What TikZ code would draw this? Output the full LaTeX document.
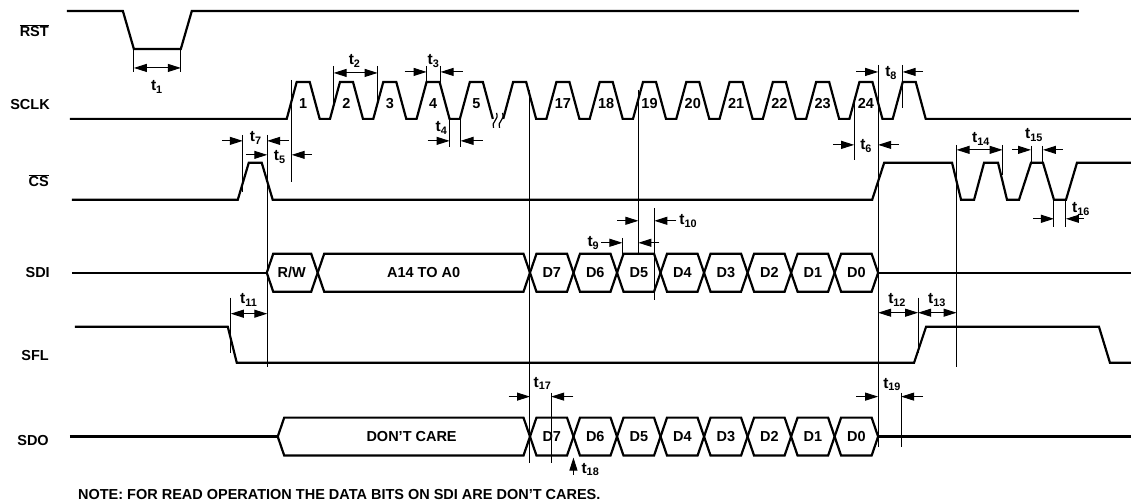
\documentclass[tikz,border=0pt]{standalone}
\usepackage{fontspec}
\setmainfont{Liberation Sans}
\usetikzlibrary{arrows.meta}

\newcommand{\tsub}[1]{t\textsubscript{#1}}
\newcommand{\ovl}[1]{$\overline{\hbox{#1}}$}
\newcommand{\busbox}[3]{%
  \draw[wave] (#1,#3) -- ({#1+6.5},{#3-19}) -- ({#2-6.5},{#3-19}) -- (#2,#3)
    -- ({#2-6.5},{#3+19}) -- ({#1+6.5},{#3+19}) -- cycle;}

\tikzset{
  wave/.style={line width=2.2pt, line join=miter},
  guide/.style={line width=1pt},
  dim/.style={line width=1pt, -{Triangle[length=13pt,width=8pt]}},
  ddim/.style={line width=1pt, {Triangle[length=13pt,width=8pt]}-{Triangle[length=13pt,width=8pt]}},
  txt/.style={font=\bfseries\fontsize{14.5}{15}\selectfont, inner sep=0pt},
  tl/.style={font=\bfseries\fontsize{15.5}{16}\selectfont, inner sep=0pt},
}

\begin{document}
\begin{tikzpicture}[x=1pt,y=-1pt]
    \fill[white] (0,0) rectangle (1132,504);
    % signal names
    \node[txt,anchor=east] (rst) at (49,31) {\ovl{RST}};
    \node[txt,anchor=east] (sclk) at (50,105) {SCLK};
    \node[txt,anchor=east] (cs) at (49,181) {\ovl{CS}};
    \node[txt,anchor=east] (sdi) at (50,273) {SDI};
    \node[txt,anchor=east] (sfl) at (49,356) {SFL};
    \node[txt,anchor=east] (sdo) at (49,441) {SDO};
    % waveforms
    \draw[wave] (67,11) -- (123,11) -- (134,49) -- (181,49) -- (192,11) -- (1080,11);
    \draw[wave] (70,119) foreach \i in {0,...,4} { -- ({287+43.33*\i},119) -- ({297+43.33*\i},82) -- ({310+43.33*\i},82) -- ({320+43.33*\i},119) };
    \draw[wave] (503.7,119) foreach \i in {5,...,14} { -- ({297+43.33*\i},82) -- ({310+43.33*\i},82) -- ({320+43.33*\i},119) -- ({330.3+43.33*\i},119) } -- (1132,119);
    \draw[line width=1.2pt] (494,128) .. controls (491,122) and (500,120) .. (497,113);
    \draw[line width=1.2pt] (500,128) .. controls (497,122) and (506,120) .. (503,113);
    \foreach \i/\n in {0/1,1/2,2/3,3/4,4/5,6/17,7/18,8/19,9/20,10/21,11/22,12/23,13/24}
      \node[txt] (p\n) at ({303.5+43.33*\i},104) {\n};
    \draw[wave] (72,200) -- (238,200) -- (249,163) -- (262,163) -- (273,200) -- (873,200) -- (885,163) -- (953,163) -- (962,200) -- (975,200) -- (985,163) -- (999,163) -- (1008,200) -- (1020,200) -- (1032,163) -- (1044,163) -- (1055,200) -- (1067,200) -- (1078,163) -- (1132,163);
    \draw[wave] (72,273) -- (267,273);
    \busbox{267}{318}{273}
    \busbox{318}{530.5}{273}
    \node[txt] (rw) at (292,273) {R/W};
    \node[txt] (addr) at (424,273) {A14 TO A0};
    \draw[wave] (879,273) -- (1132,273);
    \draw[wave] (75,327) -- (228,327) -- (237,363) -- (915,363) -- (927,327) -- (1100,327) -- (1111,363) -- (1132,363);
    \draw[wave] (70,437) -- (278,437);
    \busbox{278}{530.5}{437}
    \node[txt] (dc) at (412,437) {DON'T CARE};
    \draw[wave] (879,437) -- (1132,437);
    \foreach \n [count=\k from 0] in {D7,D6,D5,D4,D3,D2,D1,D0} {
      \pgfmathsetmacro\a{530.5+43.56*\k}
      \pgfmathsetmacro\b{\a+43.56}
      \busbox{\a}{\b}{273}
      \busbox{\a}{\b}{437}
      \node[txt] (sdi\n) at ({\a+21.8},273) {\n};
      \node[txt] (sdo\n) at ({\a+21.8},437) {\n};
    }
    % guide lines
    \draw[guide] (134,49) -- (134,72) (181,49) -- (181,72);
    \draw[guide] (334,66) -- (334,104) (378,66) -- (378,103);
    \draw[guide] (427,66) -- (427,82) (441,66) -- (441,82);
    \draw[guide] (450,119) -- (450,147) (461,119) -- (461,147);
    \draw[guide] (292,80) -- (292,182);
    \draw[guide] (243,135) -- (243,192) (267.5,135) -- (267.5,367);
    \draw[guide] (855,100) -- (855,160) (879,65) -- (879,447) (903.5,65) -- (903.5,108);
    \draw[guide] (530.5,90) -- (530.5,463) (639,90) -- (639,254);
    \draw[guide] (623,238) -- (623,254) (655,208) -- (655,300);
    \draw[guide] (231,298) -- (231,353) (919,298) -- (919,353);
    \draw[guide] (957.5,145) -- (957.5,367) (1003.5,145) -- (1003.5,175);
    \draw[guide] (1032,146) -- (1032,163) (1044,146) -- (1044,163);
    \draw[guide] (1055,200) -- (1055,227) (1067,200) -- (1067,227);
    \draw[guide] (551.7,393) -- (551.7,463) (902,393) -- (902,447);
    % timing marks
    \draw[ddim] (134,68) -- (181,68);
    \draw[ddim] (334,73) -- (378,73);
    \draw[dim] (405,72) -- (427,72);
    \draw[dim] (463,72) -- (441,72);
    \draw[dim] (428,141) -- (450,141);
    \draw[dim] (483,141) -- (461,141);
    \draw[dim] (222,141) -- (243,141);
    \draw[dim] (289,141) -- (267.5,141);
    \draw[dim] (246,155) -- (267.5,155);
    \draw[dim] (312,155) -- (292,155);
    \draw[dim] (834,145) -- (855,145);
    \draw[dim] (900,145) -- (879,145);
    \draw[dim] (857,72) -- (879,72);
    \draw[dim] (924,72) -- (903.5,72);
    \draw[dim] (602,243) -- (623,243);
    \draw[dim] (660,243) -- (639,243);
    \draw[dim] (618,221) -- (639,221);
    \draw[dim] (677,221) -- (655,221);
    \draw[ddim] (231,314) -- (267.5,314);
    \draw[ddim] (879,313) -- (919,313);
    \draw[ddim] (919,313) -- (957.5,313);
    \draw[ddim] (957.5,150) -- (1003.5,150);
    \draw[dim] (1013,150) -- (1032,150);
    \draw[dim] (1064,150) -- (1044,150);
    \draw[dim] (1034,219) -- (1055,219);
    \draw[dim] (1085,219) -- (1067,219);
    \draw[dim] (509,397) -- (530.5,397);
    \draw[dim] (574,397) -- (551.7,397);
    \draw[dim] (574,475) -- (574,458);
    \draw[dim] (857,397) -- (879,397);
    \draw[dim] (924,397) -- (902,397);
    % timing labels
    \node[tl] (t1) at (157,87) {\tsub{1}};
    \node[tl] (t2) at (355,61) {\tsub{2}};
    \node[tl] (t3) at (434,61) {\tsub{3}};
    \node[tl] (t4) at (442,128) {\tsub{4}};
    \node[tl] (t5) at (280,157) {\tsub{5}};
    \node[tl] (t6) at (867,146) {\tsub{6}};
    \node[tl] (t7) at (256,138) {\tsub{7}};
    \node[tl] (t8) at (892,73) {\tsub{8}};
    \node[tl] (t9) at (594,243) {\tsub{9}};
    \node[tl] (t10) at (689,221) {\tsub{10}};
    \node[tl] (t11) at (249,300) {\tsub{11}};
    \node[tl] (t12) at (898,300) {\tsub{12}};
    \node[tl] (t13) at (938,300) {\tsub{13}};
    \node[tl] (t14) at (982,139) {\tsub{14}};
    \node[tl] (t15) at (1035,135) {\tsub{15}};
    \node[tl] (t16) at (1082,209) {\tsub{16}};
    \node[tl] (t17) at (543,384) {\tsub{17}};
    \node[tl] (t18) at (591,470) {\tsub{18}};
    \node[tl] (t19) at (893,385) {\tsub{19}};
    \node[txt,anchor=west] (note) at (78,495) {NOTE: FOR READ OPERATION THE DATA BITS ON SDI ARE DON'T CARES.};
\end{tikzpicture}
\end{document}
